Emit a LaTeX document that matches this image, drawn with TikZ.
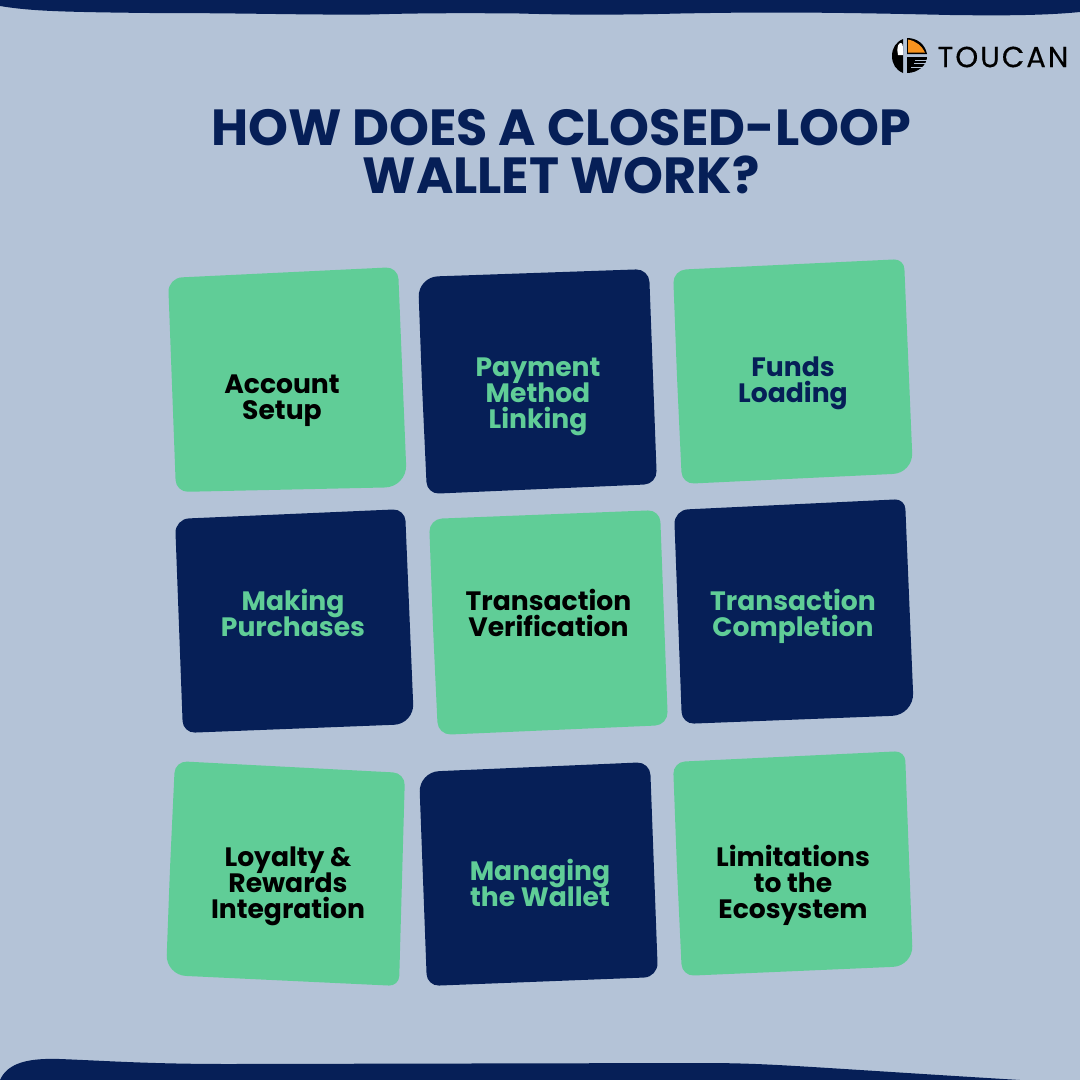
\documentclass[tikz,border=0pt]{standalone}
\usepackage{fontspec}
\usepackage{xcolor}
\setmainfont{Poppins}
\newfontfamily\brandfont[LetterSpace=7,FakeBold=0.4]{Poppins}
\setlength{\lineskiplimit}{-20pt}
\setlength{\normallineskiplimit}{-20pt}
\definecolor{bgblue}{HTML}{B4C3D7}
\definecolor{navy}{HTML}{061F57}
\definecolor{mint}{HTML}{60CD97}
\definecolor{beak}{HTML}{F7931E}
\tikzstyle{lbl} = [align=center, font=\fontsize{26.6}{26}\selectfont\bfseries]
\tikzstyle{title} = [align=center, text=navy, font=\fontsize{50.8}{48}\selectfont\bfseries]
\begin{document}
\begin{tikzpicture}[x=1pt, y=-1pt]
    % Background
    \path [use as bounding box, fill=bgblue] (0,0) rectangle (1080,1080);
    % Bands
    \fill [navy] (0,0) -- (0,6) .. controls (30,11) and (60,12) .. (150,13) .. controls (250,13) and (300,15) .. (370,14.5) .. controls (420,13) and (470,13) .. (520,13.5) .. controls (570,15) and (620,15) .. (680,13.5) .. controls (760,12) and (820,12) .. (950,15) .. controls (990,15.5) and (1040,16) .. (1080,12) -- (1080,0) -- cycle;
    \fill [navy] (0,1080) .. controls (8,1062) and (30,1058) .. (60,1059) .. controls (110,1061) and (150,1064) .. (230,1064) -- (700,1063) .. controls (770,1063) and (790,1066) .. (1020,1080) -- cycle;
    % Title
    \node [title] (heading) at (561,152) {HOW DOES A CLOSED-LOOP\\WALLET WORK?};
    % Cards
    \fill [mint] (172,385) [rounded corners=14pt] -- (168,278) [rounded corners=12pt] -- (398,267) [rounded corners=22pt] -- (407,487) [rounded corners=12pt] -- (176,492) -- cycle;
    \fill [navy] (422,385) [rounded corners=20pt] -- (418,277) [rounded corners=13pt] -- (649,269) [rounded corners=13pt] -- (657,484) [rounded corners=12pt] -- (427,494) -- cycle;
    \fill [mint] (677,377) [rounded corners=13pt] -- (673,270) [rounded corners=10pt] -- (904,259) [rounded corners=20pt] -- (913,473) [rounded corners=12pt] -- (682,484) -- cycle;
    \fill [navy] (179,626) [rounded corners=14pt] -- (175,519) [rounded corners=12pt] -- (405,509) [rounded corners=20pt] -- (414,724) [rounded corners=12pt] -- (183,733) -- cycle;
    \fill [mint] (433,627) [rounded corners=13pt] -- (429,519) [rounded corners=12pt] -- (660,510) [rounded corners=13pt] -- (668,725) [rounded corners=13pt] -- (438,735) -- cycle;
    \fill [navy] (678,617) [rounded corners=14pt] -- (674,510) [rounded corners=10pt] -- (905,499) [rounded corners=22pt] -- (914,715) [rounded corners=12pt] -- (682,724) -- cycle;
    \fill [mint] (170,868) [rounded corners=12pt] -- (175,761) [rounded corners=12pt] -- (405,773) [rounded corners=10pt] -- (399,986) [rounded corners=20pt] -- (166,975) -- cycle;
    \fill [navy] (423,879) [rounded corners=20pt] -- (419,772) [rounded corners=13pt] -- (650,762) [rounded corners=14pt] -- (658,977) [rounded corners=12pt] -- (427,986) -- cycle;
    \fill [mint] (677,869) [rounded corners=12pt] -- (673,762) [rounded corners=10pt] -- (905,751) [rounded corners=20pt] -- (913,966) [rounded corners=12pt] -- (682,976) -- cycle;
    % Labels
    \node [lbl, text=black] (account) at (282,401) {Account\\Setup};
    \node [lbl, text=mint] (linking) at (538,397) {Payment\\Method\\Linking};
    \node [lbl, text=navy] (loading) at (793,383) {Funds\\Loading};
    \node [lbl, text=mint] (purchases) at (293,613) {Making\\Purchases};
    \node [lbl, text=black] (verification) at (548.5,613) {Transaction\\Verification};
    \node [lbl, text=mint] (completion) at (793,616) {Transaction\\Completion};
    \node [lbl, text=black] (loyalty) at (288,886) {Loyalty \&\\Rewards\\Integration};
    \node [lbl, text=mint] (managing) at (540,882.5) {Managing\\the Wallet};
    \node [lbl, text=black] (limits) at (793,885) {Limitations\\to the\\Ecosystem};
    % Logo
    \fill [black] (903,39) .. controls (896,42) and (892,48) .. (892,56) .. controls (892,64) and (896,70) .. (903,73) -- cycle;
    \fill [white] (900,43) .. controls (903,43) and (903,44) .. (903,55) -- (898,55) .. controls (897,50) and (897,45) .. (900,43) -- cycle;
    \fill [black] (907,38) .. controls (917,38) and (925,44) .. (927,54) -- (907,54) -- cycle;
    \fill [beak] (908,39.5) .. controls (916,41) and (922,46) .. (925,52.5) -- (908,52.5) -- cycle;
    \fill [black] (907,57) -- (927,57) .. controls (927,65) and (918,73) .. (907,73) -- cycle;
    \foreach \yy/\xx in {60/927, 63.5/926, 67/923}
        \draw [bgblue, line width=0.8pt] (\xx-12,\yy) -- (\xx+1,\yy);
    \node [text=black, font=\fontsize{29}{29}\selectfont\brandfont, inner sep=0pt] (brand) at (1003,57) {TOUCAN};
\end{tikzpicture}
\end{document}
